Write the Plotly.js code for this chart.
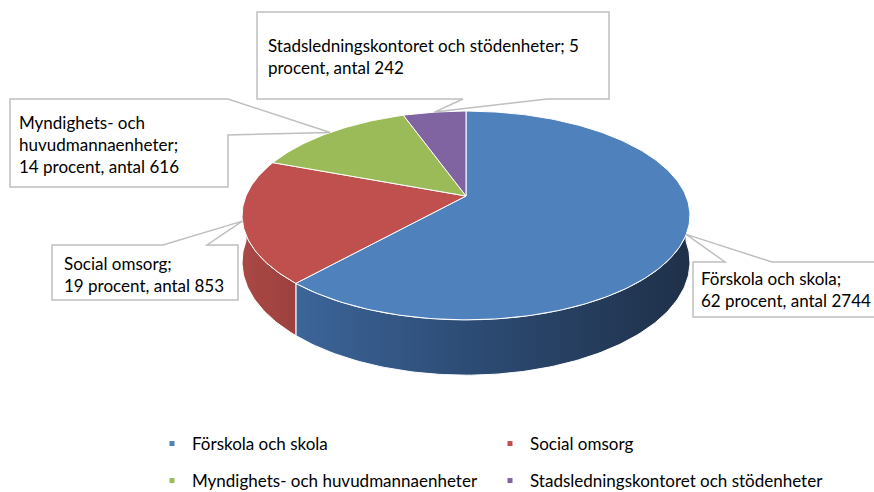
<!DOCTYPE html>
<html>
<head>
<meta charset="utf-8">
<script src="https://cdn.plot.ly/plotly-3.0.1.min.js"></script>
<style>
  html, body { margin: 0; padding: 0; background: #fff; }
  #chart { width: 874px; height: 492px; }
</style>
</head>
<body>
<div id="chart"></div>
<script>
// data
const categories = ['Förskola och skola', 'Social omsorg', 'Myndighets- och huvudmannaenheter', 'Stadsledningskontoret och stödenheter'];
const counts = [2744, 853, 616, 242];
const percents = [62, 19, 14, 5];
const labelTexts = [
    'Förskola och skola;<br>62 procent, antal 2744',
    'Social omsorg;<br>19 procent, antal 853',
    'Myndighets- och<br>huvudmannaenheter;<br>14 procent, antal 616',
    'Stadsledningskontoret och stödenheter; 5<br>procent, antal 242'
];
const topColors = ['#4f81bd', '#c0504d', '#9bbb59', '#8064a2'];

// 3D pie geometry (axes are set up in pixel units)
const CX = 466, CY = 196, R = 220, D = 5.36, A = 540, H = 45;

function proj(deg, drop) {
    const t = deg * Math.PI / 180;
    const u = Math.sin(t), v = Math.cos(t);
    const s = D / (D + v);
    return [CX + R * u * s, CY - A * v / (D + v) + drop * s];
}

function arc(a0, a1, drop) {
    const pts = [];
    const n = Math.max(2, Math.ceil(a1 - a0));
    for (let i = 0; i <= n; i++) pts.push(proj(a0 + (a1 - a0) * i / n, drop));
    return pts;
}

const total = counts.reduce((a, b) => a + b, 0);
let acc = 0;
const slices = counts.map(c => {
    const a0 = acc / total * 360;
    acc += c;
    return [a0, acc / total * 360];
});

const traces = [];

// sides (only the front half shows)
const sideScales = [
    [[0, '#43699c'], [0.12, '#3c6599'], [0.5, '#2d4c75'], [1, '#1f3049']],
    [[0, '#aa4844'], [1, '#9c413e']]
];
slices.forEach(([a0, a1], i) => {
    const lo = Math.max(a0, 90), hi = Math.min(a1, 270);
    if (hi <= lo) return;
    const pts = arc(lo, hi, 0).concat(arc(lo, hi, H).reverse());
    pts.push(pts[0]);
    const xs = pts.map(p => p[0]);
    traces.push({
        type: 'scatter', mode: 'lines',
        x: xs, y: pts.map(p => p[1]),
        fill: 'toself',
        fillcolor: topColors[i],
        fillgradient: {
            type: 'horizontal',
            start: i === 0 ? 243 : Math.min(...xs),
            stop: i === 0 ? 690 : Math.max(...xs),
            colorscale: sideScales[i] || [[0, topColors[i]], [1, topColors[i]]]
        },
        line: { color: '#ffffff', width: 1 },
        hoverinfo: 'skip', showlegend: false
    });
});

// top faces
slices.forEach(([a0, a1], i) => {
    const pts = [[CX, CY]].concat(arc(a0, a1, 0));
    pts.push([CX, CY]);
    traces.push({
        type: 'scatter', mode: 'lines',
        x: pts.map(p => p[0]), y: pts.map(p => p[1]),
        fill: 'toself', fillcolor: topColors[i],
        line: { color: '#ffffff', width: 1 },
        hoverinfo: 'skip', showlegend: false
    });
});

// legend entries
categories.forEach((name, i) => {
    traces.push({
        type: 'scatter', mode: 'markers',
        x: [null], y: [null],
        name: name,
        marker: { symbol: 'square', size: 5, color: topColors[i] },
        legend: i < 2 ? 'legend' : 'legend2',
        showlegend: true
    });
});

// callouts: box + wedge pointing at the slice edge
const tips = slices.map(([a0, a1]) => proj((a0 + a1) / 2, 0));
const pt = p => p[0].toFixed(1) + ',' + p[1].toFixed(1);
const calloutPaths = [
    `M693,262 L725,262 L${pt(tips[0])} L772,262 L880,262 L880,317 L693,317 Z`,
    `M52,245 L163,245 L${pt(tips[1])} L207,245 L238,245 L238,300 L52,300 Z`,
    `M10,99 L228,99 L${pt(tips[2])} L228,135 L228,187 L10,187 Z`,
    `M257,12 L609,12 L609,99 L547,99 L${pt(tips[3])} L463,99 L257,99 Z`
];
const shapes = calloutPaths.map(p => ({
    type: 'path', path: p, xref: 'x', yref: 'y',
    fillcolor: '#ffffff', line: { color: '#bfbfbf', width: 1.5 }
}));

const textPos = [[699, 289], [62, 274], [17, 144], [266, 56]];
const annotations = labelTexts.map((t, i) => ({
    text: t, xref: 'x', yref: 'y',
    x: textPos[i][0], y: textPos[i][1],
    xanchor: 'left', yanchor: 'middle', align: 'left',
    showarrow: false, font: { size: 17, color: '#000' }
}));

const legendBase = {
    orientation: 'h', xanchor: 'left', yanchor: 'middle',
    x: 152 / 874, entrywidthmode: 'pixels', entrywidth: 293,
    font: { size: 17, color: '#000' }, bgcolor: 'rgba(0,0,0,0)'
};

const layout = {
    width: 874, height: 492,
    margin: { l: 0, r: 0, t: 0, b: 0, autoexpand: false },
    paper_bgcolor: '#fff', plot_bgcolor: '#fff',
    font: { family: 'Lato, sans-serif', size: 17, color: '#000' },
    xaxis: { range: [0, 874], visible: false, fixedrange: true },
    yaxis: { range: [492, 0], visible: false, fixedrange: true },
    shapes: shapes,
    annotations: annotations,
    legend: Object.assign({}, legendBase, { y: 1 - 444 / 492 }),
    legend2: Object.assign({}, legendBase, { y: 1 - 481 / 492 }),
    showlegend: true
};

Plotly.newPlot('chart', traces, layout, { displayModeBar: false, staticPlot: true });
</script>
</body>
</html>
